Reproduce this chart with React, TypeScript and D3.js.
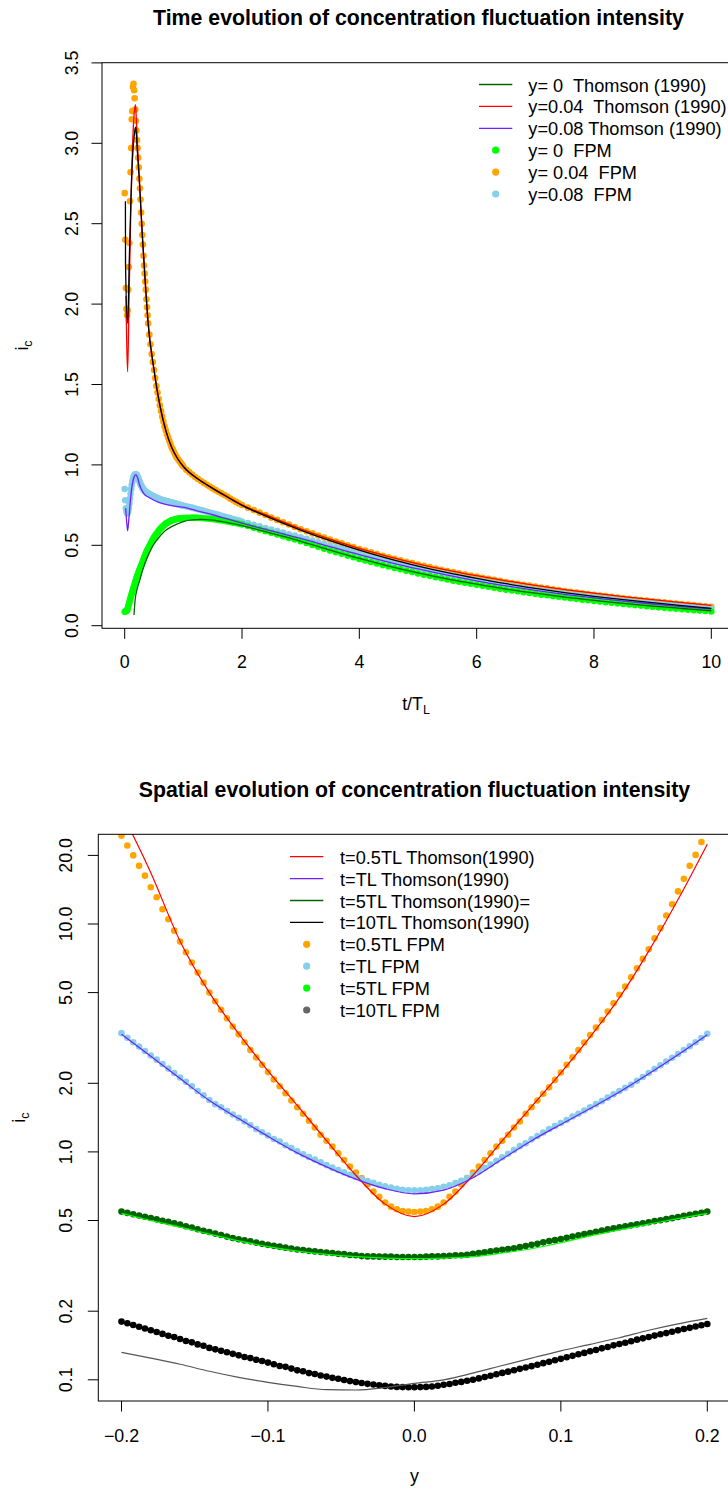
import React from "react";
import * as d3 from "d3";

const W = 728;
const H = 1492;
const FONT = '"Liberation Sans", Arial, Helvetica, sans-serif';

const C_DARKGREEN = "#006400";
const C_RED = "#FF0000";
const C_VIOLET = "#7020FF";
const C_GREEN = "#00FF00";
const C_ORANGE = "#FFA500";
const C_SKY = "#87CEEB";
const C_BLACK = "#000000";
const C_GREY = "#555555";
const C_DIM = "#666666";

// ---------------- Top chart: time evolution ----------------
const topTitle = "Time evolution of concentration fluctuation intensity";
const topXTicks = [0, 2, 4, 6, 8, 10];
const topYTicks = [0, 0.5, 1, 1.5, 2, 2.5, 3, 3.5];
const topYTickLabels = ["0.0", "0.5", "1.0", "1.5", "2.0", "2.5", "3.0", "3.5"];

// sampling grids of the FPM output (t/TL)
const tFine = d3.range(41).map((i) => i / 100); // 0.00 .. 0.40
const tMid = d3.range(30).map((i) => 0.42 + i * 0.02); // 0.42 .. 1.00
const tCoarse = d3.range(20).map((i) => 1.05 + i * 0.05); // 1.05 .. 2.00
const tTail = d3.range(80).map((i) => 2.1 + i * 0.1); // 2.1 .. 10.0
const tAll = [...tFine, ...tMid, ...tCoarse, ...tTail];

// y = 0.04 FPM (orange)
const fpm004Fine = [2.69, 2.40, 2.10, 1.97, 1.93, 1.96, 2.09, 2.23, 2.38, 2.64, 2.82, 2.97, 3.15, 3.20, 3.35, 3.37, 3.33, 3.28, 3.21, 3.14, 3.08, 3.02, 2.97, 2.91, 2.85, 2.78, 2.72, 2.65, 2.57, 2.50, 2.43, 2.37, 2.30, 2.24, 2.19, 2.14, 2.09, 2.03, 1.98, 1.93, 1.88];
const fpm004Mid = [1.81, 1.75, 1.69, 1.64, 1.59, 1.54, 1.49, 1.45, 1.41, 1.37, 1.335, 1.30, 1.27, 1.24, 1.215, 1.19, 1.17, 1.15, 1.13, 1.11, 1.095, 1.08, 1.065, 1.05, 1.04, 1.03, 1.02, 1.01, 1.0, 0.99];
const fpm004Coarse = [0.97, 0.955, 0.94, 0.925, 0.912, 0.90, 0.888, 0.876, 0.865, 0.854, 0.843, 0.833, 0.823, 0.813, 0.803, 0.79, 0.78, 0.77, 0.76, 0.75];
const fpm004Tail = [
  0.734, 0.719, 0.703, 0.688, 0.672, 0.658, 0.643, 0.629, 0.614, 0.600,
  0.587, 0.574, 0.561, 0.548, 0.535, 0.523, 0.512, 0.500, 0.489, 0.477,
  0.467, 0.456, 0.446, 0.435, 0.425, 0.416, 0.407, 0.398, 0.389, 0.380,
  0.372, 0.364, 0.356, 0.348, 0.340, 0.333, 0.326, 0.319, 0.312, 0.305,
  0.298, 0.292, 0.285, 0.279, 0.272, 0.266, 0.260, 0.255, 0.249, 0.243,
  0.238, 0.232, 0.227, 0.221, 0.216, 0.211, 0.206, 0.202, 0.197, 0.192,
  0.188, 0.184, 0.179, 0.175, 0.171, 0.167, 0.163, 0.160, 0.156, 0.152,
  0.148, 0.145, 0.141, 0.138, 0.134, 0.131, 0.128, 0.124, 0.121, 0.118,
];

// y = 0.08 FPM (skyblue)
const fpm008Fine = [0.85, 0.78, 0.73, 0.71, 0.70, 0.70, 0.71, 0.73, 0.76, 0.79, 0.82, 0.85, 0.875, 0.895, 0.91, 0.922, 0.932, 0.938, 0.941, 0.942, 0.94, 0.935, 0.928, 0.92, 0.91, 0.90, 0.89, 0.88, 0.872, 0.865, 0.858, 0.852, 0.847, 0.842, 0.838, 0.835, 0.832, 0.829, 0.827, 0.825, 0.823];
const fpm008Mid = [0.819, 0.815, 0.811, 0.807, 0.803, 0.8, 0.797, 0.794, 0.791, 0.788, 0.785, 0.782, 0.78, 0.778, 0.776, 0.774, 0.772, 0.77, 0.768, 0.766, 0.764, 0.762, 0.76, 0.758, 0.756, 0.754, 0.752, 0.75, 0.748, 0.746];
const fpm008Coarse = [0.742, 0.738, 0.734, 0.729, 0.724, 0.719, 0.714, 0.709, 0.704, 0.699, 0.694, 0.689, 0.684, 0.679, 0.674, 0.669, 0.664, 0.659, 0.654, 0.648];
const fpm008Tail = [
  0.638, 0.628, 0.618, 0.608, 0.598, 0.588, 0.579, 0.569, 0.560, 0.550,
  0.540, 0.529, 0.519, 0.508, 0.498, 0.488, 0.478, 0.468, 0.458, 0.448,
  0.439, 0.429, 0.420, 0.410, 0.401, 0.392, 0.384, 0.375, 0.367, 0.358,
  0.350, 0.342, 0.335, 0.327, 0.319, 0.312, 0.305, 0.298, 0.291, 0.284,
  0.278, 0.272, 0.265, 0.259, 0.253, 0.247, 0.242, 0.236, 0.231, 0.225,
  0.220, 0.215, 0.210, 0.205, 0.200, 0.195, 0.191, 0.186, 0.182, 0.177,
  0.173, 0.169, 0.165, 0.161, 0.157, 0.153, 0.150, 0.146, 0.143, 0.139,
  0.136, 0.132, 0.129, 0.125, 0.122, 0.119, 0.116, 0.112, 0.109, 0.106,
];

// y = 0 FPM (green)
const fpm0Fine = [0.087, 0.088, 0.09, 0.093, 0.097, 0.104, 0.118, 0.132, 0.146, 0.16, 0.173, 0.186, 0.199, 0.211, 0.223, 0.235, 0.247, 0.259, 0.271, 0.283, 0.295, 0.305, 0.315, 0.325, 0.335, 0.345, 0.354, 0.363, 0.372, 0.381, 0.39, 0.40, 0.41, 0.42, 0.43, 0.44, 0.448, 0.456, 0.464, 0.472, 0.48];
const fpm0Mid = [0.495, 0.509, 0.523, 0.537, 0.55, 0.56, 0.57, 0.58, 0.59, 0.60, 0.607, 0.614, 0.621, 0.628, 0.635, 0.639, 0.643, 0.647, 0.651, 0.655, 0.657, 0.659, 0.661, 0.663, 0.665, 0.666, 0.667, 0.668, 0.669, 0.67];
const fpm0Coarse = [0.671, 0.671, 0.672, 0.672, 0.671, 0.67, 0.668, 0.667, 0.665, 0.662, 0.66, 0.658, 0.655, 0.652, 0.648, 0.645, 0.641, 0.638, 0.634, 0.63];
const fpm0Tail = [
  0.620, 0.609, 0.599, 0.588, 0.578, 0.567, 0.557, 0.546, 0.536, 0.525,
  0.514, 0.502, 0.491, 0.479, 0.468, 0.457, 0.447, 0.436, 0.426, 0.415,
  0.406, 0.396, 0.387, 0.377, 0.368, 0.359, 0.351, 0.342, 0.334, 0.325,
  0.317, 0.310, 0.302, 0.295, 0.287, 0.280, 0.274, 0.267, 0.261, 0.254,
  0.248, 0.242, 0.236, 0.230, 0.224, 0.219, 0.214, 0.208, 0.203, 0.198,
  0.193, 0.189, 0.184, 0.180, 0.175, 0.171, 0.167, 0.162, 0.158, 0.154,
  0.150, 0.146, 0.143, 0.139, 0.135, 0.132, 0.128, 0.125, 0.121, 0.118,
  0.115, 0.111, 0.108, 0.105, 0.102, 0.099, 0.096, 0.094, 0.091, 0.088,
];

// Thomson (1990) curves: [t/TL, ic]
const thomsonY0: [number, number][] = [[0.158, 0.067], [0.178, 0.16], [0.218, 0.235], [0.258, 0.284], [0.318, 0.36], [0.368, 0.41], [0.47, 0.49], [0.55, 0.533], [0.69, 0.59], [0.8, 0.616], [1.0, 0.648], [1.14, 0.658], [1.3, 0.661], [1.5, 0.656], [1.75, 0.641], [2, 0.623], [2.5, 0.574], [3, 0.525], [3.5, 0.47], [4, 0.418], [4.5, 0.371], [5, 0.329], [5.5, 0.291], [6, 0.258], [6.5, 0.228], [7, 0.202], [7.5, 0.178], [8, 0.157], [8.5, 0.139], [9, 0.122], [9.5, 0.107], [10, 0.093]];
const thomsonY004: [number, number][] = [[0.02, 2.05], [0.035, 1.75], [0.05, 1.58], [0.075, 2.05], [0.1, 2.5], [0.13, 2.95], [0.16, 3.18], [0.185, 3.24], [0.2, 3.13], [0.22, 2.98], [0.25, 2.77], [0.3, 2.43], [0.35, 2.14], [0.4, 1.88], [0.5, 1.59], [0.6, 1.37], [0.7, 1.215], [0.8, 1.11], [0.9, 1.04], [1.0, 0.99], [1.25, 0.912], [1.5, 0.854], [1.75, 0.803], [2.0, 0.752], [2.5, 0.675], [3, 0.603], [3.5, 0.539], [4, 0.481], [4.5, 0.43], [5, 0.385], [5.5, 0.346], [6, 0.311], [6.5, 0.279], [7, 0.251], [7.5, 0.225], [8, 0.202], [8.5, 0.181], [9, 0.162], [9.5, 0.144], [10, 0.127]];
const thomsonY008: [number, number][] = [[0.017, 0.73], [0.035, 0.64], [0.05, 0.59], [0.07, 0.66], [0.1, 0.79], [0.13, 0.88], [0.16, 0.925], [0.19, 0.94], [0.22, 0.92], [0.25, 0.88], [0.29, 0.844], [0.34, 0.815], [0.4, 0.80], [0.5, 0.78], [0.63, 0.76], [0.8, 0.747], [1.085, 0.73], [1.25, 0.713], [1.5, 0.69], [1.75, 0.664], [2.0, 0.638], [2.5, 0.59], [3, 0.543], [3.5, 0.492], [4, 0.442], [4.5, 0.396], [5, 0.353], [5.5, 0.314], [6, 0.279], [6.5, 0.248], [7, 0.22], [7.5, 0.195], [8, 0.173], [8.5, 0.153], [9, 0.135], [9.5, 0.119], [10, 0.104]];
const extraBlackY004: [number, number][] = [[0.012, 2.64], [0.014, 2.25], [0.05, 1.88], [0.08, 2.3], [0.11, 2.7], [0.14, 2.95], [0.17, 3.07], [0.19, 3.10], [0.21, 2.98], [0.25, 2.77], [0.3, 2.43], [0.35, 2.14], [0.4, 1.88], [0.5, 1.59], [0.6, 1.37], [0.7, 1.215], [0.8, 1.11], [0.9, 1.04], [1.0, 0.99], [1.25, 0.912], [1.5, 0.854], [1.75, 0.80], [2.0, 0.748], [2.5, 0.668], [3, 0.595], [3.5, 0.529], [4, 0.47], [4.5, 0.417], [5, 0.371], [5.5, 0.33], [6, 0.294], [6.5, 0.261], [7, 0.232], [7.5, 0.206], [8, 0.183], [8.5, 0.162], [9, 0.143], [9.5, 0.125], [10, 0.108]];

const topLegendLabels = ["y= 0  Thomson (1990)", "y=0.04  Thomson (1990)", "y=0.08 Thomson (1990)", "y= 0  FPM", "y= 0.04  FPM", "y=0.08  FPM"];

// ---------------- Bottom chart: spatial evolution ----------------
const botTitle = "Spatial evolution of concentration fluctuation intensity";
const botXTicks = [-0.2, -0.1, 0, 0.1, 0.2];
const botXTickLabels = ["\u22120.2", "\u22120.1", "0.0", "0.1", "0.2"];
const botYTicks = [0.1, 0.2, 0.5, 1, 2, 5, 10, 20];
const botYTickLabels = ["0.1", "0.2", "0.5", "1.0", "2.0", "5.0", "10.0", "20.0"];

const yGrid = d3.range(101).map((i) => -0.2 + i * 0.004);
const yLineGrid = d3.range(21).map((i) => -0.2 + i * 0.02);

const fpmT05 = [24.4, 22.1, 20.0, 18.0, 16.3, 14.5, 13.1, 11.6, 10.5, 9.35, 8.37, 7.52, 6.77, 6.12, 5.53, 5.0, 4.58, 4.2, 3.86, 3.55, 3.28, 3.03, 2.80, 2.60, 2.41, 2.24, 2.08, 1.94, 1.81, 1.68, 1.57, 1.47, 1.37, 1.28,
  1.19, 1.12, 1.055, 0.987, 0.922, 0.862, 0.811, 0.767, 0.72, 0.67, 0.635, 0.60, 0.575, 0.56, 0.55, 0.547, 0.545,
  0.547, 0.55, 0.56, 0.575, 0.60, 0.635, 0.67, 0.72, 0.767, 0.811, 0.862, 0.922, 0.987, 1.055, 1.12, 1.19, 1.28, 1.36, 1.47, 1.57, 1.68, 1.80, 1.92, 2.07, 2.23, 2.41, 2.60, 2.80, 3.02, 3.26, 3.51, 3.79, 4.13, 4.49, 4.89, 5.31, 5.84, 6.40, 7.03, 7.75, 8.66, 9.59, 10.9, 12.2, 13.9, 15.8, 18.0, 20.1, 22.9, 26.0];
const fpmT1 = [3.32, 3.17, 3.03, 2.90, 2.77, 2.65, 2.54, 2.43, 2.32, 2.22, 2.12, 2.03, 1.94, 1.85, 1.77, 1.69, 1.62, 1.57, 1.51, 1.46, 1.41, 1.36, 1.31, 1.26, 1.22, 1.18, 1.14, 1.11, 1.07, 1.04, 1.007, 0.977, 0.95, 0.925, 0.90, 0.875, 0.853, 0.832, 0.813, 0.794, 0.776, 0.76, 0.745, 0.731, 0.718, 0.706, 0.697, 0.689, 0.682, 0.679, 0.678,
  0.679, 0.682, 0.687, 0.693, 0.703, 0.714, 0.73, 0.746, 0.767, 0.792, 0.822, 0.851, 0.881, 0.914, 0.948, 0.982, 1.02, 1.06, 1.09, 1.135, 1.175, 1.216, 1.26, 1.30, 1.34, 1.38, 1.43, 1.47, 1.52, 1.57, 1.62, 1.67, 1.73, 1.79, 1.85, 1.91, 1.97, 2.05, 2.13, 2.22, 2.31, 2.40, 2.49, 2.59, 2.69, 2.80, 2.91, 3.03, 3.16, 3.30];
const fpmT5 = [0.547, 0.540, 0.533, 0.526, 0.519, 0.513, 0.506, 0.499, 0.493, 0.486, 0.480, 0.472, 0.466, 0.458, 0.451, 0.445, 0.438, 0.432, 0.425, 0.419, 0.414, 0.409, 0.405, 0.400, 0.395, 0.391, 0.387, 0.384, 0.380, 0.377, 0.373, 0.371, 0.368, 0.366, 0.364, 0.362, 0.360, 0.357, 0.356, 0.353, 0.352, 0.349, 0.348, 0.348, 0.347, 0.347, 0.347, 0.346, 0.346, 0.346, 0.346,
  0.346, 0.347, 0.348, 0.348, 0.349, 0.35, 0.352, 0.352, 0.354, 0.357, 0.36, 0.363, 0.366, 0.369, 0.372, 0.375, 0.378, 0.382, 0.386, 0.391, 0.395, 0.401, 0.406, 0.41, 0.415, 0.42, 0.425, 0.431, 0.436, 0.441, 0.446, 0.452, 0.457, 0.462, 0.467, 0.472, 0.476, 0.481, 0.486, 0.491, 0.497, 0.501, 0.507, 0.512, 0.518, 0.524, 0.53, 0.535, 0.541, 0.547];
const fpmT10 = [0.180, 0.177, 0.174, 0.171, 0.168, 0.165, 0.162, 0.159, 0.156, 0.154, 0.151, 0.148, 0.146, 0.143, 0.141, 0.138, 0.136, 0.134, 0.132, 0.130, 0.128, 0.126, 0.1245, 0.1225, 0.121, 0.119, 0.117, 0.115, 0.114, 0.112, 0.110, 0.109, 0.107, 0.106, 0.1045, 0.1033, 0.102, 0.101, 0.0998, 0.0987, 0.0977, 0.0968, 0.096, 0.0953, 0.0946, 0.094, 0.0935, 0.0931, 0.0929, 0.0927, 0.0927,
  0.0929, 0.0931, 0.0935, 0.0942, 0.0951, 0.0959, 0.097, 0.0979, 0.0991, 0.1, 0.1014, 0.1028, 0.1042, 0.1057, 0.1072, 0.1086, 0.1102, 0.1117, 0.1132, 0.1148, 0.1164, 0.1183, 0.1199, 0.1219, 0.1236, 0.1256, 0.1274, 0.1294, 0.1312, 0.1334, 0.1352, 0.1374, 0.1393, 0.1416, 0.1435, 0.1455, 0.1476, 0.15, 0.152, 0.1542, 0.1563, 0.1585, 0.1603, 0.1626, 0.1648, 0.1671, 0.169, 0.1714, 0.1734, 0.1758];

const thomsonT05 = [31, 16.8, 8.4, 5.0, 3.3, 2.27, 1.60, 1.12, 0.79, 0.59, 0.52, 0.59, 0.79, 1.12, 1.58, 2.22, 3.2, 4.75, 7.6, 12.8, 22.4];
const thomsonT1 = [3.28, 2.63, 2.10, 1.68, 1.40, 1.17, 0.99, 0.86, 0.76, 0.69, 0.655, 0.68, 0.77, 0.93, 1.12, 1.32, 1.55, 1.83, 2.20, 2.67, 3.27];
const thomsonT5 = [0.537, 0.50, 0.468, 0.436, 0.407, 0.384, 0.367, 0.355, 0.347, 0.342, 0.340, 0.342, 0.347, 0.360, 0.376, 0.400, 0.428, 0.455, 0.482, 0.51, 0.537];
const thomsonT10 = [0.132, 0.1245, 0.117, 0.109, 0.1025, 0.0975, 0.0935, 0.0905, 0.0902, 0.0925, 0.0965, 0.100, 0.107, 0.1155, 0.1245, 0.134, 0.143, 0.153, 0.165, 0.176, 0.186];

const botLegendLabels = ["t=0.5TL Thomson(1990)", "t=TL Thomson(1990)", "t=5TL Thomson(1990)=", "t=10TL Thomson(1990)", "t=0.5TL FPM", "t=TL FPM", "t=5TL FPM", "t=10TL FPM"];

// ---------------- geometry ----------------
const TOP = { left: 102, right: 735, top: 62.7, bottom: 628.3 };
const BOT = { left: 98.3, right: 730.7, top: 834.3, bottom: 1401 };
const FS = 17.8;
const FS_LEG = 18.2;
const FS_TITLE = 21.3;
const TICK = 10.5;
const R = 3.3;

const xTop = d3.scaleLinear().domain([0, 10]).range([124.7, 711.3]);
const yTop = d3.scaleLinear().domain([0, 3.5]).range([625.7, 62.9]);
const xBot = d3.scaleLinear().domain([-0.2, 0.2]).range([121.5, 707.3]);
const yBot = d3.scaleLog().domain([0.1, 20]).range([1379.8, 855.4]);

const lineTop = d3
  .line<[number, number]>()
  .x((d) => xTop(d[0]))
  .y((d) => yTop(d[1]))
  .curve(d3.curveMonotoneX);
const lineBot = d3
  .line<[number, number]>()
  .x((d) => xBot(d[0]))
  .y((d) => yBot(d[1]))
  .curve(d3.curveMonotoneX);

function Dots({ xs, vs, x, y, color, r = R }: any) {
  return (
    <g fill={color}>
      {vs.map((v: number, i: number) => (
        <circle key={i} cx={x(xs[i])} cy={y(v)} r={r} />
      ))}
    </g>
  );
}

function Sub({ main, sub, ...rest }: any) {
  return (
    <text {...rest}>
      {main}
      <tspan fontSize={12.5} dy={4}>
        {sub}
      </tspan>
    </text>
  );
}

export default function App() {
  const orangeTop = [...fpm004Fine, ...fpm004Mid, ...fpm004Coarse, ...fpm004Tail];
  const skyTop = [...fpm008Fine, ...fpm008Mid, ...fpm008Coarse, ...fpm008Tail];
  const greenTop = [...fpm0Fine, ...fpm0Mid, ...fpm0Coarse, ...fpm0Tail];

  const topLegend = [
    { type: "line", color: C_DARKGREEN },
    { type: "line", color: C_RED },
    { type: "line", color: C_VIOLET },
    { type: "dot", color: C_GREEN },
    { type: "dot", color: C_ORANGE },
    { type: "dot", color: C_SKY },
  ];
  const botLegend = [
    { type: "line", color: C_RED },
    { type: "line", color: C_VIOLET },
    { type: "line", color: C_DARKGREEN },
    { type: "line", color: C_BLACK },
    { type: "dot", color: C_ORANGE },
    { type: "dot", color: C_SKY },
    { type: "dot", color: C_GREEN },
    { type: "dot", color: C_DIM },
  ];

  const zipBot = (vals: number[]) => vals.map((v, i) => [yLineGrid[i], v] as [number, number]);

  return (
    <svg
      width={W}
      height={H}
      style={{ position: "absolute", left: 0, top: 0, background: "#fff" }}
      fontFamily={FONT}
    >
      <rect x={0} y={0} width={W} height={H} fill="#fff" />
      <defs>
        <clipPath id="clipTop">
          <rect x={TOP.left} y={TOP.top} width={TOP.right - TOP.left} height={TOP.bottom - TOP.top} />
        </clipPath>
        <clipPath id="clipBot">
          <rect x={BOT.left} y={BOT.top} width={BOT.right - BOT.left} height={BOT.bottom - BOT.top} />
        </clipPath>
      </defs>

      {/* ============ TOP CHART ============ */}
      <text x={(TOP.left + TOP.right) / 2} y={25} textAnchor="middle" fontWeight="bold" fontSize={FS_TITLE}>
        {topTitle}
      </text>
      <g clipPath="url(#clipTop)">
        <Dots xs={tAll} vs={orangeTop} x={xTop} y={yTop} color={C_ORANGE} />
        <Dots xs={tAll} vs={skyTop} x={xTop} y={yTop} color={C_SKY} />
        <Dots xs={tAll} vs={greenTop} x={xTop} y={yTop} color={C_GREEN} />
        <path d={lineTop(thomsonY0) || ""} fill="none" stroke={C_DARKGREEN} strokeWidth={1.3} />
        <path d={lineTop(thomsonY004) || ""} fill="none" stroke={C_RED} strokeWidth={1.3} />
        <path d={lineTop(thomsonY008) || ""} fill="none" stroke={C_VIOLET} strokeWidth={1.3} />
        <path d={lineTop(extraBlackY004) || ""} fill="none" stroke={C_BLACK} strokeWidth={1.3} />
      </g>
      <rect
        x={TOP.left}
        y={TOP.top}
        width={TOP.right - TOP.left}
        height={TOP.bottom - TOP.top}
        fill="none"
        stroke="#000"
        strokeWidth={1}
      />
      {topXTicks.map((t) => (
        <g key={"tx" + t}>
          <line x1={xTop(t)} x2={xTop(t)} y1={TOP.bottom} y2={TOP.bottom + TICK} stroke="#000" />
          <text x={xTop(t)} y={668} textAnchor="middle" fontSize={FS}>
            {t}
          </text>
        </g>
      ))}
      {topYTicks.map((v, i) => (
        <g key={"ty" + v}>
          <line x1={TOP.left - TICK} x2={TOP.left} y1={yTop(v)} y2={yTop(v)} stroke="#000" />
          <text transform={`translate(77.5,${yTop(v)}) rotate(-90)`} textAnchor="middle" fontSize={FS}>
            {topYTickLabels[i]}
          </text>
        </g>
      ))}
      <Sub main="t/T" sub="L" x={416} y={709.5} textAnchor="middle" fontSize={FS} />
      <Sub main="i" sub="c" transform={`translate(28,${(TOP.top + TOP.bottom) / 2}) rotate(-90)`} textAnchor="middle" fontSize={FS} />
      {topLegend.map((it, i) => {
        const cy = 84.5 + i * 21.9;
        return (
          <g key={"tl" + i}>
            {it.type === "line" ? (
              <line x1={479} x2={512.3} y1={cy} y2={cy} stroke={it.color} strokeWidth={1.3} />
            ) : (
              <circle cx={495.7} cy={cy} r={3.6} fill={it.color} />
            )}
            <text x={528.3} y={cy + 7} fontSize={FS_LEG} xmlSpace="preserve" style={{ whiteSpace: "pre" }}>
              {topLegendLabels[i]}
            </text>
          </g>
        );
      })}

      {/* ============ BOTTOM CHART ============ */}
      <text x={(BOT.left + BOT.right) / 2} y={796.5} textAnchor="middle" fontWeight="bold" fontSize={FS_TITLE}>
        {botTitle}
      </text>
      <g clipPath="url(#clipBot)">
        <Dots xs={yGrid} vs={fpmT05} x={xBot} y={yBot} color={C_ORANGE} />
        <Dots xs={yGrid} vs={fpmT1} x={xBot} y={yBot} color={C_SKY} />
        <Dots xs={yGrid} vs={fpmT5} x={xBot} y={yBot} color={C_DARKGREEN} />
        <Dots xs={yGrid} vs={fpmT10} x={xBot} y={yBot} color={C_BLACK} />
        <path d={lineBot(zipBot(thomsonT05)) || ""} fill="none" stroke={C_RED} strokeWidth={1.2} />
        <path d={lineBot(zipBot(thomsonT1)) || ""} fill="none" stroke={C_VIOLET} strokeWidth={1.2} />
        <path d={lineBot(zipBot(thomsonT5)) || ""} fill="none" stroke={C_GREEN} strokeWidth={1.2} />
        <path d={lineBot(zipBot(thomsonT10)) || ""} fill="none" stroke={C_GREY} strokeWidth={1.2} />
      </g>
      <rect
        x={BOT.left}
        y={BOT.top}
        width={BOT.right - BOT.left}
        height={BOT.bottom - BOT.top}
        fill="none"
        stroke="#000"
        strokeWidth={1}
      />
      {botXTicks.map((t, i) => (
        <g key={"bx" + t}>
          <line x1={xBot(t)} x2={xBot(t)} y1={BOT.bottom} y2={BOT.bottom + TICK} stroke="#000" />
          <text x={xBot(t)} y={1441.5} textAnchor="middle" fontSize={FS}>
            {botXTickLabels[i]}
          </text>
        </g>
      ))}
      {botYTicks.map((v, i) => (
        <g key={"by" + v}>
          <line x1={BOT.left - TICK} x2={BOT.left} y1={yBot(v)} y2={yBot(v)} stroke="#000" />
          <text transform={`translate(72,${yBot(v)}) rotate(-90)`} textAnchor="middle" fontSize={FS}>
            {botYTickLabels[i]}
          </text>
        </g>
      ))}
      <text x={(BOT.left + BOT.right) / 2} y={1482} textAnchor="middle" fontSize={FS}>
        y
      </text>
      <Sub main="i" sub="c" transform={`translate(25,${(BOT.top + BOT.bottom) / 2}) rotate(-90)`} textAnchor="middle" fontSize={FS} />
      {botLegend.map((it, i) => {
        const cy = 856.7 + i * 21.9;
        return (
          <g key={"bl" + i}>
            {it.type === "line" ? (
              <line x1={290} x2={323.3} y1={cy} y2={cy} stroke={it.color} strokeWidth={1.3} />
            ) : (
              <circle cx={306.7} cy={cy} r={3.6} fill={it.color} />
            )}
            <text x={340} y={cy + 7} fontSize={FS_LEG} xmlSpace="preserve" style={{ whiteSpace: "pre" }}>
              {botLegendLabels[i]}
            </text>
          </g>
        );
      })}
    </svg>
  );
}
